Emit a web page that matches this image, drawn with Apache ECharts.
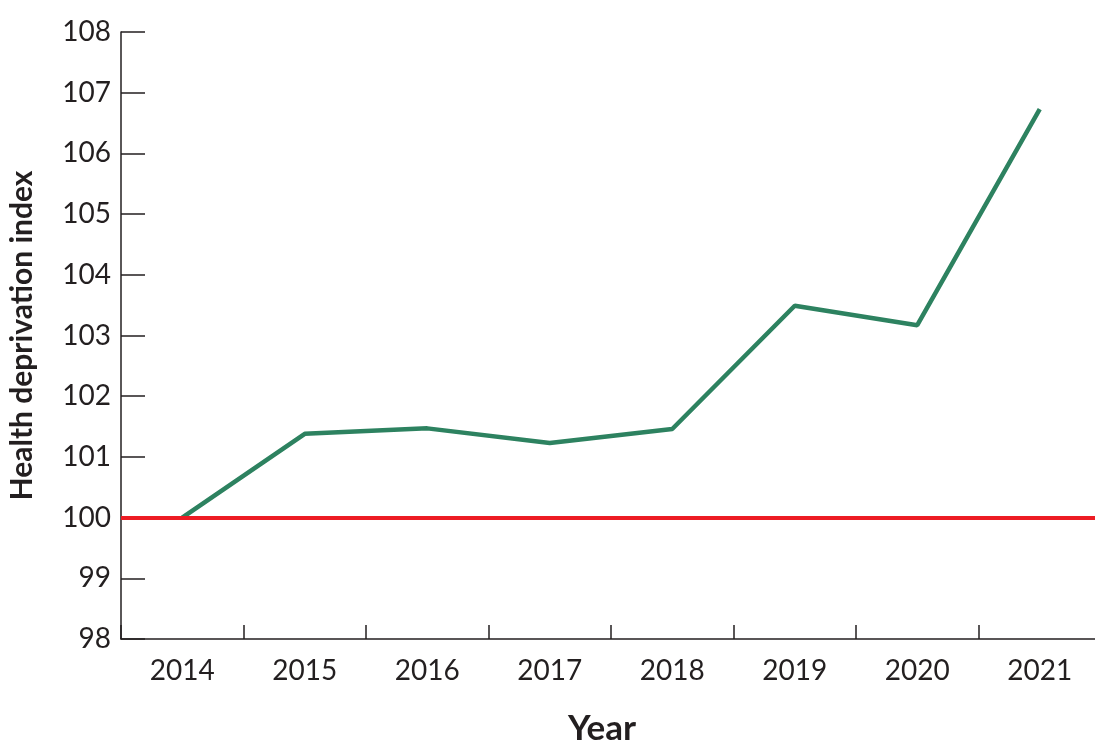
<!DOCTYPE html>
<html>
<head>
<meta charset="utf-8">
<title>Health deprivation index</title>
<script src="https://cdn.jsdelivr.net/npm/echarts@6/dist/echarts.min.js"></script>
<style>
  html, body { margin: 0; padding: 0; background: #fff; }
  #chart { width: 1095px; height: 744px; }
</style>
</head>
<body>
<div id="chart"></div>
<script>
// data
const years = ['2014', '2015', '2016', '2017', '2018', '2019', '2020', '2021'];
const indexValues = [100, 101.38, 101.47, 101.23, 101.46, 103.49, 103.17, 106.73];
const baseline = 100;
const yMin = 98;
const yMax = 108;
const yStep = 1;

document.addEventListener('DOMContentLoaded', function(){
  var chart = echarts.init(document.getElementById('chart'));
  var ink = '#231f20';

  chart.setOption({
    backgroundColor: '#fff',
    animation: false,
    textStyle: { fontFamily: 'Lato, sans-serif' },
    // axis runs past the right edge, like the reference
    grid: { left: 121, top: 32, width: 980, bottom: 105, containLabel: false, outerBoundsMode: 'none' },
    xAxis: {
      type: 'category',
      data: years,
      boundaryGap: true,
      name: 'Year',
      nameLocation: 'middle',
      nameGap: 72,
      nameTextStyle: { color: ink, fontSize: 35, fontWeight: 'bold', padding: [0, 18, 0, 0] },
      axisLine: { show: true, lineStyle: { color: ink, width: 1.5 } },
      axisTick: { show: true, inside: true, length: 14, lineStyle: { color: ink, width: 1.5 } },
      axisLabel: { color: ink, fontSize: 28, margin: 18 },
      splitLine: { show: false }
    },
    yAxis: {
      type: 'value',
      min: yMin,
      max: yMax,
      interval: yStep,
      name: 'Health deprivation index',
      nameLocation: 'middle',
      nameGap: 84,
      nameRotate: 90,
      nameTextStyle: { color: ink, fontSize: 30, fontWeight: 'bold' },
      axisLine: { show: true, lineStyle: { color: ink, width: 1.5 } },
      axisTick: { show: true, inside: true, length: 24, lineStyle: { color: ink, width: 1.5 } },
      axisLabel: { color: ink, fontSize: 28, margin: 10 },
      splitLine: { show: false }
    },
    series: [{
      name: 'Health deprivation index',
      type: 'line',
      data: indexValues,
      showSymbol: false,
      symbol: 'none',
      lineStyle: { color: '#2d8260', width: 4.5 },
      z: 3,
      markLine: {
        silent: true,
        symbol: 'none',
        label: { show: false },
        lineStyle: { color: '#ed1c24', width: 4, type: 'solid' },
        data: [{ yAxis: baseline }]
      }
    }]
  });
});
</script>
</body>
</html>
